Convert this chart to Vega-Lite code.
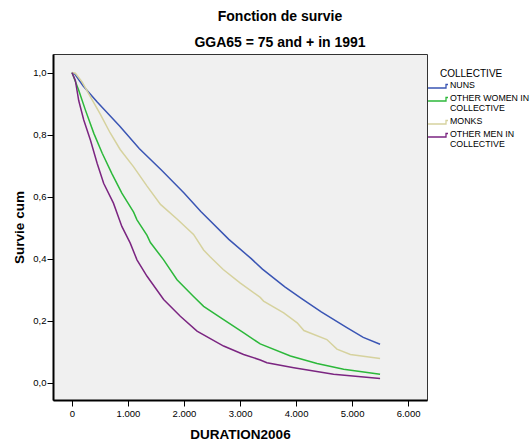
{
  "$schema": "https://vega.github.io/schema/vega-lite/v6.json",
  "autosize": "none",
  "padding": {"left": 53, "top": 54, "right": 103, "bottom": 41},
  "width": 374,
  "height": 346,
  "background": "white",
  "title": {
    "text": "Fonction de survie",
    "subtitle": "GGA65 = 75 and + in 1991",
    "anchor": "middle",
    "dx": 40,
    "fontSize": 14,
    "subtitleFontSize": 14,
    "subtitleFontWeight": "bold",
    "font": "Liberation Sans",
    "subtitleFont": "Liberation Sans",
    "color": "black",
    "subtitleColor": "black",
    "subtitlePadding": 12,
    "offset": 4
  },
  "config": {
    "view": {"fill": "#F0F0F0", "stroke": "#333333", "strokeWidth": 1},
    "font": "Liberation Sans"
  },
  "data": {
    "values": [
      {"group": "NUNS", "t": 0, "s": 1.0},
      {"group": "NUNS", "t": 50, "s": 0.995},
      {"group": "NUNS", "t": 200, "s": 0.957},
      {"group": "NUNS", "t": 450, "s": 0.905},
      {"group": "NUNS", "t": 850, "s": 0.828},
      {"group": "NUNS", "t": 1200, "s": 0.755},
      {"group": "NUNS", "t": 1600, "s": 0.685},
      {"group": "NUNS", "t": 2000, "s": 0.612},
      {"group": "NUNS", "t": 2300, "s": 0.552},
      {"group": "NUNS", "t": 2800, "s": 0.462},
      {"group": "NUNS", "t": 3200, "s": 0.4},
      {"group": "NUNS", "t": 3400, "s": 0.366},
      {"group": "NUNS", "t": 3800, "s": 0.309},
      {"group": "NUNS", "t": 4100, "s": 0.271},
      {"group": "NUNS", "t": 4450, "s": 0.228},
      {"group": "NUNS", "t": 4900, "s": 0.178},
      {"group": "NUNS", "t": 5200, "s": 0.146},
      {"group": "NUNS", "t": 5500, "s": 0.124},

      {"group": "OTHER WOMEN IN COLLECTIVE", "t": 0, "s": 1.0},
      {"group": "OTHER WOMEN IN COLLECTIVE", "t": 120, "s": 0.943},
      {"group": "OTHER WOMEN IN COLLECTIVE", "t": 240, "s": 0.879},
      {"group": "OTHER WOMEN IN COLLECTIVE", "t": 390, "s": 0.804},
      {"group": "OTHER WOMEN IN COLLECTIVE", "t": 540, "s": 0.74},
      {"group": "OTHER WOMEN IN COLLECTIVE", "t": 710, "s": 0.675},
      {"group": "OTHER WOMEN IN COLLECTIVE", "t": 890, "s": 0.611},
      {"group": "OTHER WOMEN IN COLLECTIVE", "t": 1100, "s": 0.55},
      {"group": "OTHER WOMEN IN COLLECTIVE", "t": 1160, "s": 0.525},
      {"group": "OTHER WOMEN IN COLLECTIVE", "t": 1340, "s": 0.475},
      {"group": "OTHER WOMEN IN COLLECTIVE", "t": 1400, "s": 0.452},
      {"group": "OTHER WOMEN IN COLLECTIVE", "t": 1636, "s": 0.396},
      {"group": "OTHER WOMEN IN COLLECTIVE", "t": 1875, "s": 0.332},
      {"group": "OTHER WOMEN IN COLLECTIVE", "t": 2170, "s": 0.278},
      {"group": "OTHER WOMEN IN COLLECTIVE", "t": 2350, "s": 0.246},
      {"group": "OTHER WOMEN IN COLLECTIVE", "t": 2700, "s": 0.204},
      {"group": "OTHER WOMEN IN COLLECTIVE", "t": 3060, "s": 0.161},
      {"group": "OTHER WOMEN IN COLLECTIVE", "t": 3360, "s": 0.125},
      {"group": "OTHER WOMEN IN COLLECTIVE", "t": 3900, "s": 0.086},
      {"group": "OTHER WOMEN IN COLLECTIVE", "t": 4375, "s": 0.062},
      {"group": "OTHER WOMEN IN COLLECTIVE", "t": 4850, "s": 0.043},
      {"group": "OTHER WOMEN IN COLLECTIVE", "t": 5500, "s": 0.027},

      {"group": "MONKS", "t": 0, "s": 1.0},
      {"group": "MONKS", "t": 60, "s": 0.998},
      {"group": "MONKS", "t": 180, "s": 0.97},
      {"group": "MONKS", "t": 330, "s": 0.922},
      {"group": "MONKS", "t": 500, "s": 0.868},
      {"group": "MONKS", "t": 680, "s": 0.806},
      {"group": "MONKS", "t": 860, "s": 0.752},
      {"group": "MONKS", "t": 1100, "s": 0.696},
      {"group": "MONKS", "t": 1340, "s": 0.634},
      {"group": "MONKS", "t": 1580, "s": 0.575},
      {"group": "MONKS", "t": 1875, "s": 0.528},
      {"group": "MONKS", "t": 2170, "s": 0.478},
      {"group": "MONKS", "t": 2350, "s": 0.428},
      {"group": "MONKS", "t": 2470, "s": 0.405},
      {"group": "MONKS", "t": 2700, "s": 0.365},
      {"group": "MONKS", "t": 3000, "s": 0.322},
      {"group": "MONKS", "t": 3360, "s": 0.275},
      {"group": "MONKS", "t": 3420, "s": 0.263},
      {"group": "MONKS", "t": 3780, "s": 0.225},
      {"group": "MONKS", "t": 4020, "s": 0.193},
      {"group": "MONKS", "t": 4140, "s": 0.168},
      {"group": "MONKS", "t": 4550, "s": 0.139},
      {"group": "MONKS", "t": 4730, "s": 0.108},
      {"group": "MONKS", "t": 4970, "s": 0.091},
      {"group": "MONKS", "t": 5500, "s": 0.078},

      {"group": "OTHER MEN IN COLLECTIVE", "t": 0, "s": 1.0},
      {"group": "OTHER MEN IN COLLECTIVE", "t": 60, "s": 0.975},
      {"group": "OTHER MEN IN COLLECTIVE", "t": 120, "s": 0.91},
      {"group": "OTHER MEN IN COLLECTIVE", "t": 210, "s": 0.847},
      {"group": "OTHER MEN IN COLLECTIVE", "t": 330, "s": 0.782},
      {"group": "OTHER MEN IN COLLECTIVE", "t": 450, "s": 0.707},
      {"group": "OTHER MEN IN COLLECTIVE", "t": 565, "s": 0.643},
      {"group": "OTHER MEN IN COLLECTIVE", "t": 740, "s": 0.579},
      {"group": "OTHER MEN IN COLLECTIVE", "t": 890, "s": 0.504},
      {"group": "OTHER MEN IN COLLECTIVE", "t": 1040, "s": 0.45},
      {"group": "OTHER MEN IN COLLECTIVE", "t": 1160, "s": 0.396},
      {"group": "OTHER MEN IN COLLECTIVE", "t": 1340, "s": 0.343},
      {"group": "OTHER MEN IN COLLECTIVE", "t": 1636, "s": 0.268},
      {"group": "OTHER MEN IN COLLECTIVE", "t": 1934, "s": 0.214},
      {"group": "OTHER MEN IN COLLECTIVE", "t": 2232, "s": 0.166},
      {"group": "OTHER MEN IN COLLECTIVE", "t": 2707, "s": 0.118},
      {"group": "OTHER MEN IN COLLECTIVE", "t": 3064, "s": 0.091},
      {"group": "OTHER MEN IN COLLECTIVE", "t": 3362, "s": 0.073},
      {"group": "OTHER MEN IN COLLECTIVE", "t": 3480, "s": 0.064},
      {"group": "OTHER MEN IN COLLECTIVE", "t": 3960, "s": 0.048},
      {"group": "OTHER MEN IN COLLECTIVE", "t": 4670, "s": 0.027},
      {"group": "OTHER MEN IN COLLECTIVE", "t": 5500, "s": 0.013}
    ]
  },
  "mark": {"type": "line", "strokeWidth": 1.5, "interpolate": "linear"},
  "encoding": {
    "x": {
      "field": "t",
      "type": "quantitative",
      "scale": {"domain": [-339, 6338], "nice": false, "zero": false},
      "axis": {
        "title": "DURATION2006",
        "titleFontSize": 13.5,
        "titleFontWeight": "bold",
        "titleColor": "black",
        "titlePadding": 10,
        "values": [0, 1000, 2000, 3000, 4000, 5000, 6000],
        "labelExpr": "replace(format(datum.value, ','), ',', '.')",
        "labelFontSize": 9.5,
        "labelColor": "black",
        "labelPadding": 2,
        "tickSize": 6,
        "tickColor": "black",
        "domainColor": "black",
        "domainWidth": 2,
        "grid": false
      }
    },
    "y": {
      "field": "s",
      "type": "quantitative",
      "scale": {"domain": [-0.056, 1.06], "nice": false, "zero": false},
      "axis": {
        "title": "Survie cum",
        "titleFontSize": 13.5,
        "titleFontWeight": "bold",
        "titleColor": "black",
        "titlePadding": 6,
        "values": [0, 0.2, 0.4, 0.6, 0.8, 1.0],
        "labelExpr": "replace(format(datum.value, '.1f'), '.', ',')",
        "labelFontSize": 9.5,
        "labelColor": "black",
        "labelPadding": 1,
        "tickSize": 6,
        "tickColor": "black",
        "domainColor": "black",
        "domainWidth": 2,
        "grid": false
      }
    },
    "color": {
      "field": "group",
      "type": "nominal",
      "scale": {
        "domain": ["NUNS", "OTHER WOMEN IN COLLECTIVE", "MONKS", "OTHER MEN IN COLLECTIVE"],
        "range": ["#3A55B4", "#2CB83A", "#D6D29E", "#7B2581"]
      },
      "legend": {
        "orient": "none",
        "legendX": 387,
        "legendY": 15,
        "padding": 0,
        "title": "COLLECTIVE",
        "titleFontSize": 10,
        "titleFontWeight": "normal",
        "titleColor": "black",
        "titlePadding": 1,
        "labelFontSize": 8.8,
        "labelColor": "black",
        "labelOffset": 1,
        "labelLimit": 200,
        "symbolType": "M-4.7,1L0.43,1L0.43,0L1,0",
        "symbolSize": 49,
        "symbolStrokeWidth": 1.3,
        "rowPadding": 2,
        "labelExpr": "datum.label == 'OTHER WOMEN IN COLLECTIVE' ? ['OTHER WOMEN IN', 'COLLECTIVE'] : datum.label == 'OTHER MEN IN COLLECTIVE' ? ['OTHER MEN IN', 'COLLECTIVE'] : datum.label"
      }
    }
  }
}
